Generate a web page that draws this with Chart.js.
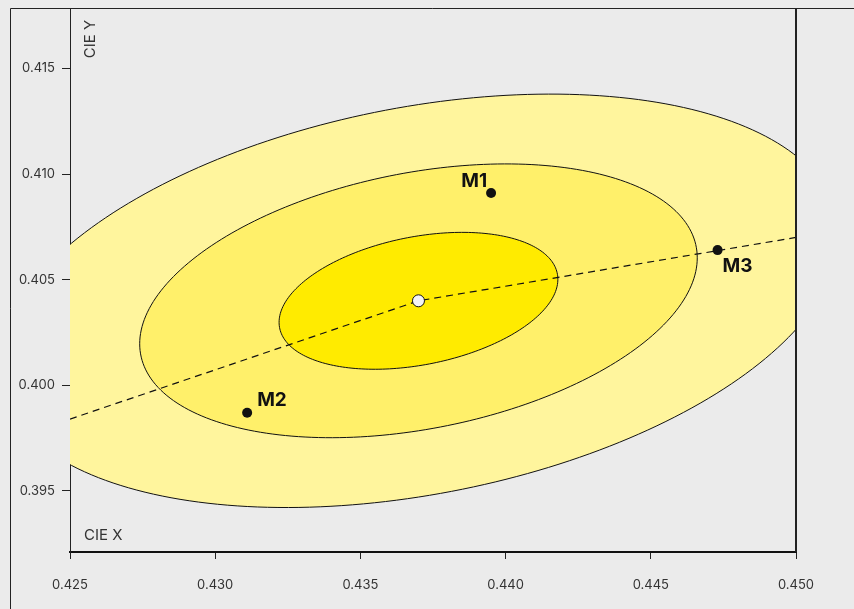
<!DOCTYPE html>
<html>
<head>
<meta charset="utf-8">
<script src="https://cdn.jsdelivr.net/npm/chart.js@4.4.1/dist/chart.umd.min.js"></script>
<style>
  html, body { margin: 0; padding: 0; background: #ebebeb; }
  #wrap { width: 854px; height: 609px; position: relative; }
</style>
</head>
<body>
<div id="wrap"><canvas id="c" width="854" height="609"></canvas></div>
<script>
// ---- data ----
const xTicks = [0.425, 0.430, 0.435, 0.440, 0.445, 0.450];
const yTicks = [0.395, 0.400, 0.405, 0.410, 0.415];
const xRange = [0.425, 0.450];
const yRange = [0.39211, 0.41786];

const sampleLabels = ['M1', 'M2', 'M3'];
const sampleX = [0.4395, 0.4311, 0.4473];
const sampleY = [0.4091, 0.3987, 0.4064];

const centerX = [0.4370];
const centerY = [0.4040];

const trendX = [0.425, 0.4370, 0.450];
const trendY = [0.3984, 0.4040, 0.4070];

// ellipse (centre = centerX/centerY), std devs, correlation, levels
const ellipseSdX = 0.00480;
const ellipseSdY = 0.00324;
const ellipseRho = 0.314;
const ellipseLevels = [3.02, 2, 1];
const ellipseColors = ['#fff59d', '#fff06a', '#ffeb00'];

const axisTitleX = 'CIE X';
const axisTitleY = 'CIE Y';

// ---- chart ----
Chart.defaults.font.family = 'Inter, Roboto, "Liberation Sans", sans-serif';
Chart.defaults.color = '#333';

const ellipsePlugin = {
  id: 'ellipses',
  beforeDatasetsDraw(chart) {
    const { ctx, chartArea: a, scales: { x, y } } = chart;
    ctx.save();
    ctx.beginPath();
    ctx.rect(a.left, a.top, a.right - a.left, a.bottom - a.top);
    ctx.clip();
    const s = Math.sqrt(1 - ellipseRho * ellipseRho);
    ellipseLevels.forEach((k, i) => {
      ctx.beginPath();
      const n = 240;
      for (let j = 0; j <= n; j++) {
        const t = (j / n) * Math.PI * 2;
        const vx = centerX[0] + k * ellipseSdX * Math.cos(t);
        const vy = centerY[0] + k * ellipseSdY * (ellipseRho * Math.cos(t) + s * Math.sin(t));
        const px = x.getPixelForValue(vx), py = y.getPixelForValue(vy);
        if (j === 0) ctx.moveTo(px, py); else ctx.lineTo(px, py);
      }
      ctx.closePath();
      ctx.fillStyle = ellipseColors[i];
      ctx.fill();
      ctx.lineWidth = 1;
      ctx.strokeStyle = '#111';
      ctx.stroke();
    });
    ctx.restore();
  },
  afterDraw(chart) {
    const { ctx, chartArea: a, scales: { x, y } } = chart;
    ctx.save();
    // frame lines
    ctx.strokeStyle = '#222';
    ctx.lineWidth = 1;
    ctx.beginPath();
    ctx.moveTo(10.5, 609); ctx.lineTo(10.5, 8.5); ctx.lineTo(854, 8.5);
    ctx.stroke();
    ctx.lineWidth = 2;
    ctx.beginPath();
    ctx.moveTo(a.right, 8); ctx.lineTo(a.right, a.bottom);
    ctx.stroke();
    // axis titles
    ctx.fillStyle = '#333';
    ctx.font = '15px Inter, Roboto, sans-serif';
    ctx.textAlign = 'left';
    ctx.textBaseline = 'middle';
    ctx.fillText(axisTitleX, a.left + 14, a.bottom - 17);
    ctx.save();
    ctx.translate(a.left + 20, a.top + 31);
    ctx.rotate(-Math.PI / 2);
    ctx.textAlign = 'center';
    ctx.fillText(axisTitleY, 0, 0);
    ctx.restore();
    // sample labels
    ctx.font = 'bold 19px Inter, Roboto, sans-serif';
    ctx.fillStyle = '#111';
    const offs = [[-4, -12, 'right'], [10, -12, 'left'], [5, 16, 'left']];
    sampleLabels.forEach((lab, i) => {
      const px = x.getPixelForValue(sampleX[i]);
      const py = y.getPixelForValue(sampleY[i]);
      ctx.textAlign = offs[i][2];
      ctx.fillText(lab, px + offs[i][0], py + offs[i][1]);
    });
    ctx.restore();
  }
};

new Chart(document.getElementById('c'), {
  type: 'scatter',
  data: {
    datasets: [
      {
        label: 'centre',
        data: centerX.map((v, i) => ({ x: v, y: centerY[i] })),
        pointRadius: 6,
        pointBackgroundColor: '#f4f4f4',
        pointBorderColor: '#111',
        pointBorderWidth: 1
      },
      {
        label: 'samples',
        data: sampleX.map((v, i) => ({ x: v, y: sampleY[i] })),
        pointRadius: 5,
        pointBackgroundColor: '#111',
        pointBorderColor: '#111',
        pointBorderWidth: 0
      },
      {
        label: 'trend',
        data: trendX.map((v, i) => ({ x: v, y: trendY[i] })),
        showLine: true,
        borderColor: '#111',
        borderWidth: 1.2,
        borderDash: [7, 5],
        pointRadius: 0,
        fill: false
      }
    ]
  },
  options: {
    responsive: false,
    animation: false,
    layout: { padding: { left: 10, top: 8, right: 58, bottom: 0 } },
    plugins: { legend: { display: false }, tooltip: { enabled: false } },
    scales: {
      x: {
        type: 'linear',
        min: xRange[0], max: xRange[1],
        afterBuildTicks: s => { s.ticks = xTicks.map(v => ({ value: v })); },
        afterFit: s => { s.height = 57; s.paddingLeft = 0; s.paddingRight = 0; },
        grid: { display: true, drawOnChartArea: false, drawTicks: true, tickLength: 7, color: '#222' },
        border: { display: true, color: '#111', width: 2 },
        ticks: { font: { size: 13 }, color: '#333', padding: 18, maxRotation: 0,
                 callback: v => v.toFixed(3) }
      },
      y: {
        type: 'linear',
        min: yRange[0], max: yRange[1],
        afterBuildTicks: s => { s.ticks = yTicks.map(v => ({ value: v })); },
        afterFit: s => { s.width = 60; s.paddingTop = 0; s.paddingBottom = 0; },
        grid: { display: true, drawOnChartArea: false, drawTicks: true, tickLength: 8, color: '#222' },
        border: { display: true, color: '#222', width: 1 },
        ticks: { font: { size: 13 }, color: '#333', padding: 7,
                 callback: v => v.toFixed(3) }
      }
    }
  },
  plugins: [ellipsePlugin]
});
</script>
</body>
</html>
